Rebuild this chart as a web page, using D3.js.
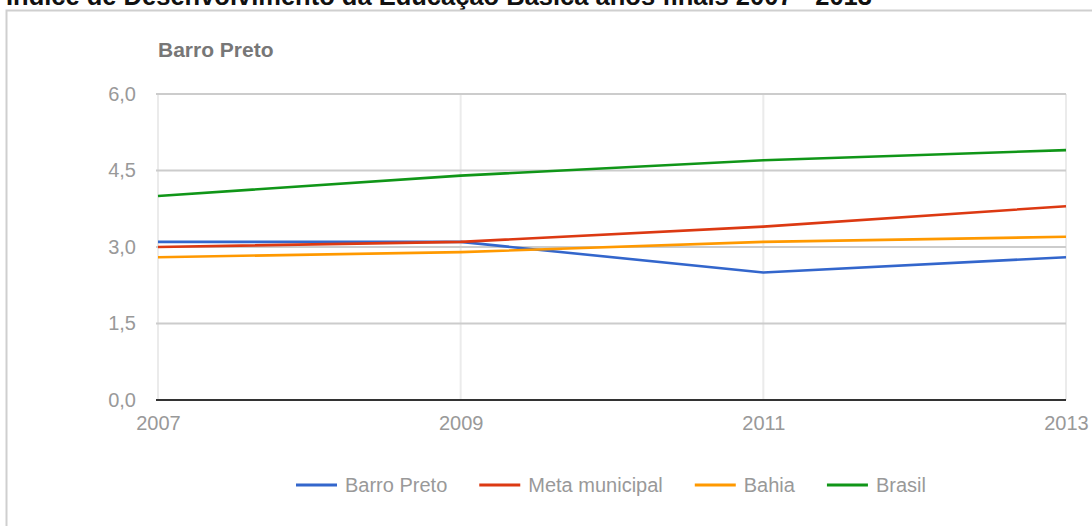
<!DOCTYPE html>
<html>
<head>
<meta charset="utf-8">
<script src="https://cdn.jsdelivr.net/npm/d3@7"></script>
<style>
  html, body { margin: 0; padding: 0; background: #fff; overflow: hidden; }
  svg { display: block; font-family: "Liberation Sans", Arial, sans-serif; }
</style>
</head>
<body>
<svg id="chart" width="1092" height="526"></svg>
<script>
// IDEB, anos finais — Barro Preto vs. targets and state/national figures
const years = [2007, 2009, 2011, 2013];
const barroPreto = [3.1, 3.1, 2.5, 2.8];
const metaMunicipal = [3.0, 3.1, 3.4, 3.8];
const bahia = [2.8, 2.9, 3.1, 3.2];
const brasil = [4.0, 4.4, 4.7, 4.9];
const seriesNames = ["Barro Preto", "Meta municipal", "Bahia", "Brasil"];
const seriesColors = ["#3366cc", "#dc3912", "#ff9900", "#109618"];
const yTicks = [0, 1.5, 3.0, 4.5, 6.0];

const series = [barroPreto, metaMunicipal, bahia, brasil].map((vals, i) => ({
  name: seriesNames[i],
  color: seriesColors[i],
  points: years.map((yr, j) => ({ year: yr, value: vals[j] }))
}));

const svg = d3.select("#chart");
const fmt = v => d3.format(".1f")(v).replace(".", ",");
const labelColor = "#999";

// page heading (partly above the viewport)
svg.append("text")
  .attr("x", 6).attr("y", 5)
  .attr("font-size", 25.5).attr("font-weight", "bold").attr("fill", "#111")
  .text("Índice de Desenvolvimento da Educação Básica anos finais 2007 - 2013");

// card frame
svg.append("rect")
  .attr("x", 6.5).attr("y", 10.5).attr("width", 1200).attr("height", 600)
  .attr("fill", "none").attr("stroke", "#cfcfcf").attr("stroke-width", 2);

const x = d3.scaleLinear().domain([2007, 2013]).range([158, 1066]);
const y = d3.scaleLinear().domain([0, 6]).range([400, 94]);

// chart title
svg.append("text")
  .attr("x", 158).attr("y", 57)
  .attr("font-size", 21).attr("font-weight", "bold").attr("fill", "#777")
  .text("Barro Preto");

// vertical gridlines
svg.append("g")
  .selectAll("line").data(years).join("line")
  .attr("x1", d => x(d)).attr("x2", d => x(d))
  .attr("y1", y(6)).attr("y2", y(0))
  .attr("stroke", "#ebebeb").attr("stroke-width", 2);

// horizontal gridlines
svg.append("g")
  .selectAll("line").data(yTicks.filter(t => t > 0)).join("line")
  .attr("x1", x(2007) - 2).attr("x2", x(2013))
  .attr("y1", d => y(d)).attr("y2", d => y(d))
  .attr("stroke", "#cccccc").attr("stroke-width", 2);

// y axis labels
const yAxis = d3.axisLeft(y).tickValues(yTicks).tickFormat(fmt).tickSize(0).tickPadding(0);
const gy = svg.append("g").attr("transform", "translate(136,0)").call(yAxis);
gy.select(".domain").remove();
gy.selectAll("text").attr("font-size", 20).attr("fill", labelColor)
  .attr("font-family", "'Liberation Sans', Arial, sans-serif");

// x axis labels
const xAxis = d3.axisBottom(x).tickValues(years).tickFormat(d3.format("d")).tickSize(0).tickPadding(0);
const gx = svg.append("g").attr("transform", "translate(0,415.5)").call(xAxis);
gx.select(".domain").remove();
gx.selectAll("text").attr("font-size", 20).attr("fill", labelColor)
  .attr("font-family", "'Liberation Sans', Arial, sans-serif");

// series lines
const line = d3.line().x(d => x(d.year)).y(d => y(d.value));
svg.append("g")
  .selectAll("path").data(series).join("path")
  .attr("d", d => line(d.points))
  .attr("fill", "none")
  .attr("stroke", d => d.color)
  .attr("stroke-width", 2.6)
  .attr("stroke-linejoin", "round");

// baseline
svg.append("line")
  .attr("x1", x(2007) - 2).attr("x2", x(2013))
  .attr("y1", y(0)).attr("y2", y(0))
  .attr("stroke", "#333").attr("stroke-width", 2);

// legend
const legend = svg.append("g").attr("transform", "translate(296,485)");
let cursor = 0;
series.forEach(s => {
  const g = legend.append("g").attr("transform", `translate(${cursor},0)`);
  g.append("line").attr("x1", 0).attr("x2", 41).attr("y1", 0).attr("y2", 0)
    .attr("stroke", s.color).attr("stroke-width", 3);
  const t = g.append("text")
    .attr("x", 49).attr("y", 7)
    .attr("font-size", 20).attr("fill", labelColor).text(s.name);
  cursor += 49 + t.node().getComputedTextLength() + 32;
});
</script>
</body>
</html>
